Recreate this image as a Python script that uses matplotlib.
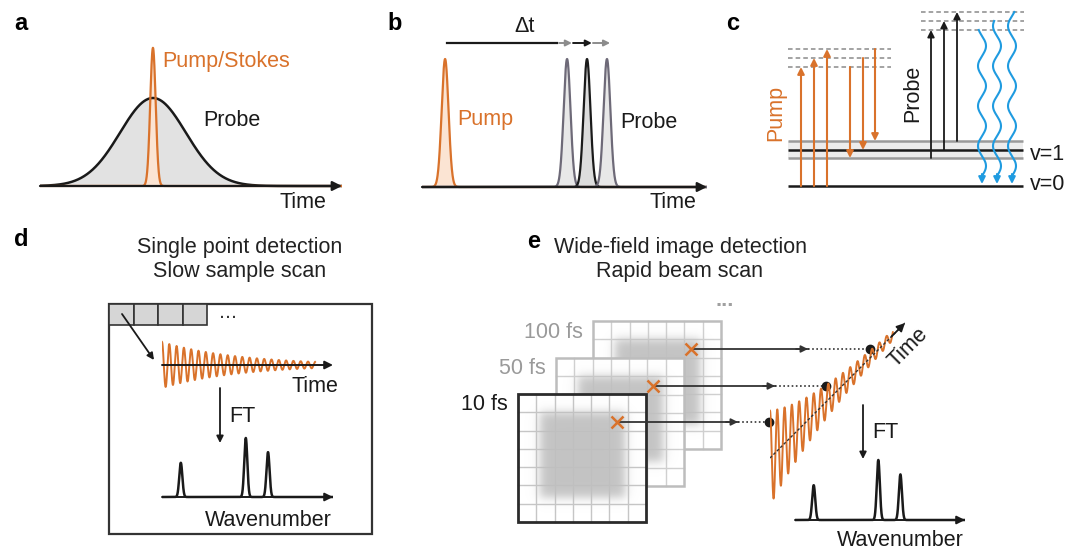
import numpy as np
import matplotlib.pyplot as plt
from matplotlib.patches import Rectangle

plt.rcParams['font.family'] = ['Liberation Sans', 'DejaVu Sans']

W, H = 1079, 552
ORANGE = '#d9722b'
ORANGE_FILL = '#fbe4d3'
BLUE = '#1f9be0'
INK = '#1a1a1a'
GREY = '#9a9a9a'
FS = 15.5

# ---------------- data ----------------
# a: broad probe pulse and narrow pump/Stokes pulse (time in a.u.)
a_center = 3.74
a_sigma = [1.09, 0.09]          # probe, pump/stokes
a_height = [1.0, 1.57]

# b: pump pulse and delayed probe pulses
b_pump = [0.81, 0.12, 1.0]      # centre, sigma, height
b_probe_pos = [5.09, 5.79, 6.49]
b_probe_sigma = 0.12
b_delay_bar = [0.88, 4.74]
b_delay_steps = [(4.81, 5.26), (5.30, 5.96), (6.00, 6.60)]

# c: energy level diagram (pixel rows of the sketch)
c_v0 = 186
c_v1_sub = [158, 150, 141]
c_pump_virtual = [67, 58, 49]
c_probe_virtual = [30, 21, 12]
c_pump_up_x = [801, 814, 827]
c_pump_down_x = [850, 863, 875]
c_probe_x = [931, 944, 957]
c_emit_x = [982, 997, 1012]

# d / e: damped vibrational coherence and its spectrum
d_period, d_tau, d_tend = 0.427, 4.5, 8.95
e_period, e_tau, e_tend, e_amp, e_slope = 0.54, 4.0, 9.1, 3.5, 1.0
spec_pos = [1.1, 4.9, 6.2]
spec_height = [0.58, 1.0, 0.76]
spec_sigma = 0.09

# e: time frames
frame_labels = ['10 fs', '50 fs', '100 fs']
frame_xy = [(518, 394), (556, 358), (593, 321)]
frame_size = 128
frame_cells = 7
cross_xy = [(617, 422), (653, 386), (691, 349)]
arrow_end_x = [738, 775, 808]
dot_x = [769, 826, 870]

# ---------------- figure ----------------
fig = plt.figure(figsize=(W / 100, H / 100), dpi=100)
cv = fig.add_axes([0, 0, 1, 1])
cv.axis('off')


def inset(x0, x1, ytop, ybot, xlim, ylim):
    ax = fig.add_axes([x0 / W, 1 - ybot / H, (x1 - x0) / W, (ybot - ytop) / H])
    ax.set_xlim(*xlim)
    ax.set_ylim(*ylim)
    ax.axis('off')
    ax.patch.set_alpha(0)
    return ax


def arrow(ax, p0, p1, color=INK, lw=1.6, ms=14, ls='-'):
    ax.annotate('', xy=p1, xytext=p0, annotation_clip=False,
                arrowprops=dict(arrowstyle='-|>', color=color, lw=lw, ls=ls,
                                mutation_scale=ms, shrinkA=0, shrinkB=0))


def gauss(t, c, s, h):
    return h * np.exp(-0.5 * ((t - c) / s) ** 2)


def txt(x, y, s, **kw):
    kw.setdefault('fontsize', FS)
    kw.setdefault('color', INK)
    kw.setdefault('va', 'center')
    cv.text(x, y, s, **kw)


# panel labels
for lab, (x, y) in zip('abcde', [(21, 23), (395, 23), (733, 23), (21, 239), (534, 241)]):
    txt(x, y, lab, fontsize=17, fontweight='bold', ha='center', color='black')

# ---- a ----
axa = inset(40, 342, 40, 190, (0, 10), (-4 / 88, 146 / 88))
t = np.linspace(0, 10, 3000)
probe = gauss(t, a_center, a_sigma[0], a_height[0])
pump = gauss(t, a_center, a_sigma[1], a_height[1])
axa.fill_between(t, probe, color='#e2e2e2', lw=0)
axa.plot(t, probe, color=INK, lw=1.8)
axa.fill_between(t, pump, color=ORANGE_FILL, lw=0)
axa.plot(t, pump, color=ORANGE, lw=1.6)
arrow(axa, (0, 0), (10, 0))
txt(162, 62, 'Pump/Stokes', color=ORANGE)
txt(203, 121, 'Probe')
txt(280, 203, 'Time')

# ---- b ----
axb = inset(422, 707, 30, 190, (0, 10), (-3 / 128, 157 / 128))
pp = gauss(t, *b_pump)
axb.fill_between(t, pp, color=ORANGE_FILL, lw=0)
axb.plot(t, pp, color=ORANGE, lw=1.6)
for i, c in enumerate(b_probe_pos):
    g = gauss(t, c, b_probe_sigma, 1.0)
    col = INK if i == 1 else '#6e6a78'
    axb.fill_between(t, g, color='#dcdcdc' if i == 1 else '#e8e8e8', lw=0)
    axb.plot(t, g, color=col, lw=1.6)
arrow(axb, (0, 0), (10, 0))
yd = (187 - 43) / 128
axb.plot(b_delay_bar, [yd, yd], color=INK, lw=1.6)
for i, (s0, s1) in enumerate(b_delay_steps):
    arrow(axb, (s0, yd), (s1, yd), color=INK if i == 1 else '#8c8c8c', lw=1.4, ms=9)
txt(525, 27, 'Δt', ha='center')
txt(457, 120, 'Pump', color=ORANGE)
txt(620, 122, 'Probe')
txt(650, 203, 'Time')

# ---- c ----
cv.fill_between([788, 1023], c_v1_sub[2], c_v1_sub[0], color='#ececec', lw=0)
cv.hlines([c_v1_sub[0], c_v1_sub[2]], 788, 1023, color=GREY, lw=1.8)
cv.hlines(c_v1_sub[1], 788, 1023, color=INK, lw=1.8)
cv.hlines(c_v0, 788, 1023, color=INK, lw=1.8)
cv.hlines(c_pump_virtual, 788, 891, color='#8a8a8a', lw=1.1, ls=(0, (3, 2)))
cv.hlines(c_probe_virtual, 921, 1024, color='#8a8a8a', lw=1.1, ls=(0, (3, 2)))
for x, top in zip(c_pump_up_x, c_pump_virtual):
    arrow(cv, (x, c_v0), (x, top), color=ORANGE, lw=1.5, ms=10)
for x, top, bot in zip(c_pump_down_x, c_pump_virtual, c_v1_sub):
    arrow(cv, (x, top), (x, bot), color=ORANGE, lw=1.5, ms=10)
for x, bot, top in zip(c_probe_x, c_v1_sub, c_probe_virtual):
    arrow(cv, (x, bot), (x, top), color=INK, lw=1.3, ms=10)
for x, top in zip(c_emit_x, c_probe_virtual):
    y = np.linspace(top, 176, 300)
    cv.plot(x + 4 * np.sin(2 * np.pi * (176 - y) / 40), y, color=BLUE, lw=1.5)
    arrow(cv, (x, 174), (x, 184), color=BLUE, lw=1.5, ms=10)
txt(776, 113, 'Pump', color=ORANGE, rotation=90, ha='center')
txt(913, 93, 'Probe', rotation=90, ha='center')
txt(1030, 154, 'v=1')
txt(1030, 184, 'v=0')

# ---- d ----
txt(240, 247, 'Single point detection', ha='center', color='#222222')
txt(240, 271, 'Slow sample scan', ha='center', color='#222222')
cv.add_patch(Rectangle((109, 304), 263, 230, fill=False, ec='#333333', lw=1.6))
for i in range(4):
    cv.add_patch(Rectangle((109 + i * 24.5, 304), 24.5, 21, fc='#d6d6d6', ec='#333333', lw=1.2))
txt(228, 318, '...', ha='center', va='baseline', color='#333333')
arrow(cv, (122, 314), (154, 360), lw=1.3, ms=10)

axds = inset(162, 333, 335, 395, (0, 10), (-30 / 23, 30 / 23))
td = np.linspace(0, d_tend, 2000)
axds.plot(td, np.exp(-td / d_tau) * np.cos(2 * np.pi * td / d_period), color=ORANGE, lw=1.4)
arrow(axds, (0, 0), (10, 0), lw=1.4, ms=12)
txt(315, 387, 'Time', ha='center')
arrow(cv, (220, 388), (220, 443), lw=1.3, ms=10)
txt(242, 417, 'FT', ha='center')

axdp = inset(162, 333, 430, 500, (0, 10), (-3 / 59, 67 / 59))
spec = sum(gauss(t, p, spec_sigma, h) for p, h in zip(spec_pos, spec_height))
axdp.plot(t, spec, color=INK, lw=1.8)
arrow(axdp, (0, 0), (10, 0), lw=1.4, ms=12)
txt(268, 520, 'Wavenumber', ha='center')

# ---- e ----
txt(680, 247, 'Wide-field image detection', ha='center', color='#222222')
txt(680, 271, 'Rapid beam scan', ha='center', color='#222222')
txt(725, 306, '...', ha='center', va='baseline', fontweight='bold', color='#a0a0a0')

n = 200
u = np.linspace(0, 1, n)
ux, uy = np.meshgrid(u, u)
s = lambda v: 0.5 * (1 + np.tanh(v / 0.045))
mask = s(ux - 0.17) * s(0.84 - ux) * s(uy - 0.14) * s(0.81 - uy)
blob = np.zeros((n, n, 4))
blob[..., :3] = 0.75
blob[..., 3] = 0.93 * mask

for k in [2, 1, 0]:
    x0, y0 = frame_xy[k]
    z = 2 + (2 - k) * 4
    front = k == 0
    cv.add_patch(Rectangle((x0, y0), frame_size, frame_size, fc='white', ec='none', zorder=z))
    step = frame_size / frame_cells
    lc = '#c6c6c6' if front else '#d0d0d0'
    for j in range(1, frame_cells):
        cv.plot([x0 + j * step] * 2, [y0, y0 + frame_size], color=lc, lw=1.0, zorder=z + 1)
        cv.plot([x0, x0 + frame_size], [y0 + j * step] * 2, color=lc, lw=1.0, zorder=z + 1)
    cv.imshow(blob, extent=(x0, x0 + frame_size, y0 + frame_size, y0), aspect='auto', zorder=z + 2)
    cv.add_patch(Rectangle((x0, y0), frame_size, frame_size, fill=False,
                           ec='#2b2b2b' if front else '#bdbdbd', lw=2.0 if front else 1.8, zorder=z + 3))
    txt(x0 - 10, y0 + 11, frame_labels[k], ha='right', color=INK if front else '#9a9a9a')

for (cx, cy), ax_end, dx in zip(cross_xy, arrow_end_x, dot_x):
    cv.plot([cx, ax_end], [cy, cy], color='#333333', lw=1.3, zorder=20)
    arrow(cv, (ax_end - 12, cy), (ax_end, cy), color='#333333', lw=1.3, ms=10)
    cv.plot([ax_end, dx], [cy, cy], color='#333333', lw=1.2, ls=(0, (1, 1.5)), zorder=20)
    cv.plot(dx, cy, 'o', color=INK, ms=6, zorder=22)
    cv.plot(cx, cy, 'x', color=ORANGE, ms=9, mew=1.8, zorder=21)

axes_sig = inset(770, 905, 315, 510, (0, 10), (-(510 - 458) / 13.5, (458 - 315) / 13.5))
te = np.linspace(0, e_tend, 2000)
axes_sig.plot(te, e_slope * te + e_amp * np.exp(-te / e_tau) * np.cos(2 * np.pi * te / e_period),
              color=ORANGE, lw=1.4)
axes_sig.plot([0, 10], [0, 10 * e_slope], color='#333333', lw=1.0, ls=(0, (2, 1.5)))
arrow(axes_sig, (9, 9 * e_slope), (10, 10 * e_slope), lw=1.3, ms=12)
txt(908, 348, 'Time', ha='center', rotation=45)

arrow(cv, (863, 405), (863, 459), lw=1.3, ms=10)
txt(885, 432, 'FT', ha='center')
axep = inset(795, 965, 450, 523, (0, 10), (-3 / 60, 70 / 60))
axep.plot(t, spec, color=INK, lw=1.8)
arrow(axep, (0, 0), (10, 0), lw=1.4, ms=12)
txt(900, 541, 'Wavenumber', ha='center')

cv.set_xlim(0, W)
cv.set_ylim(H, 0)
fig.savefig('out.png', dpi=100)
